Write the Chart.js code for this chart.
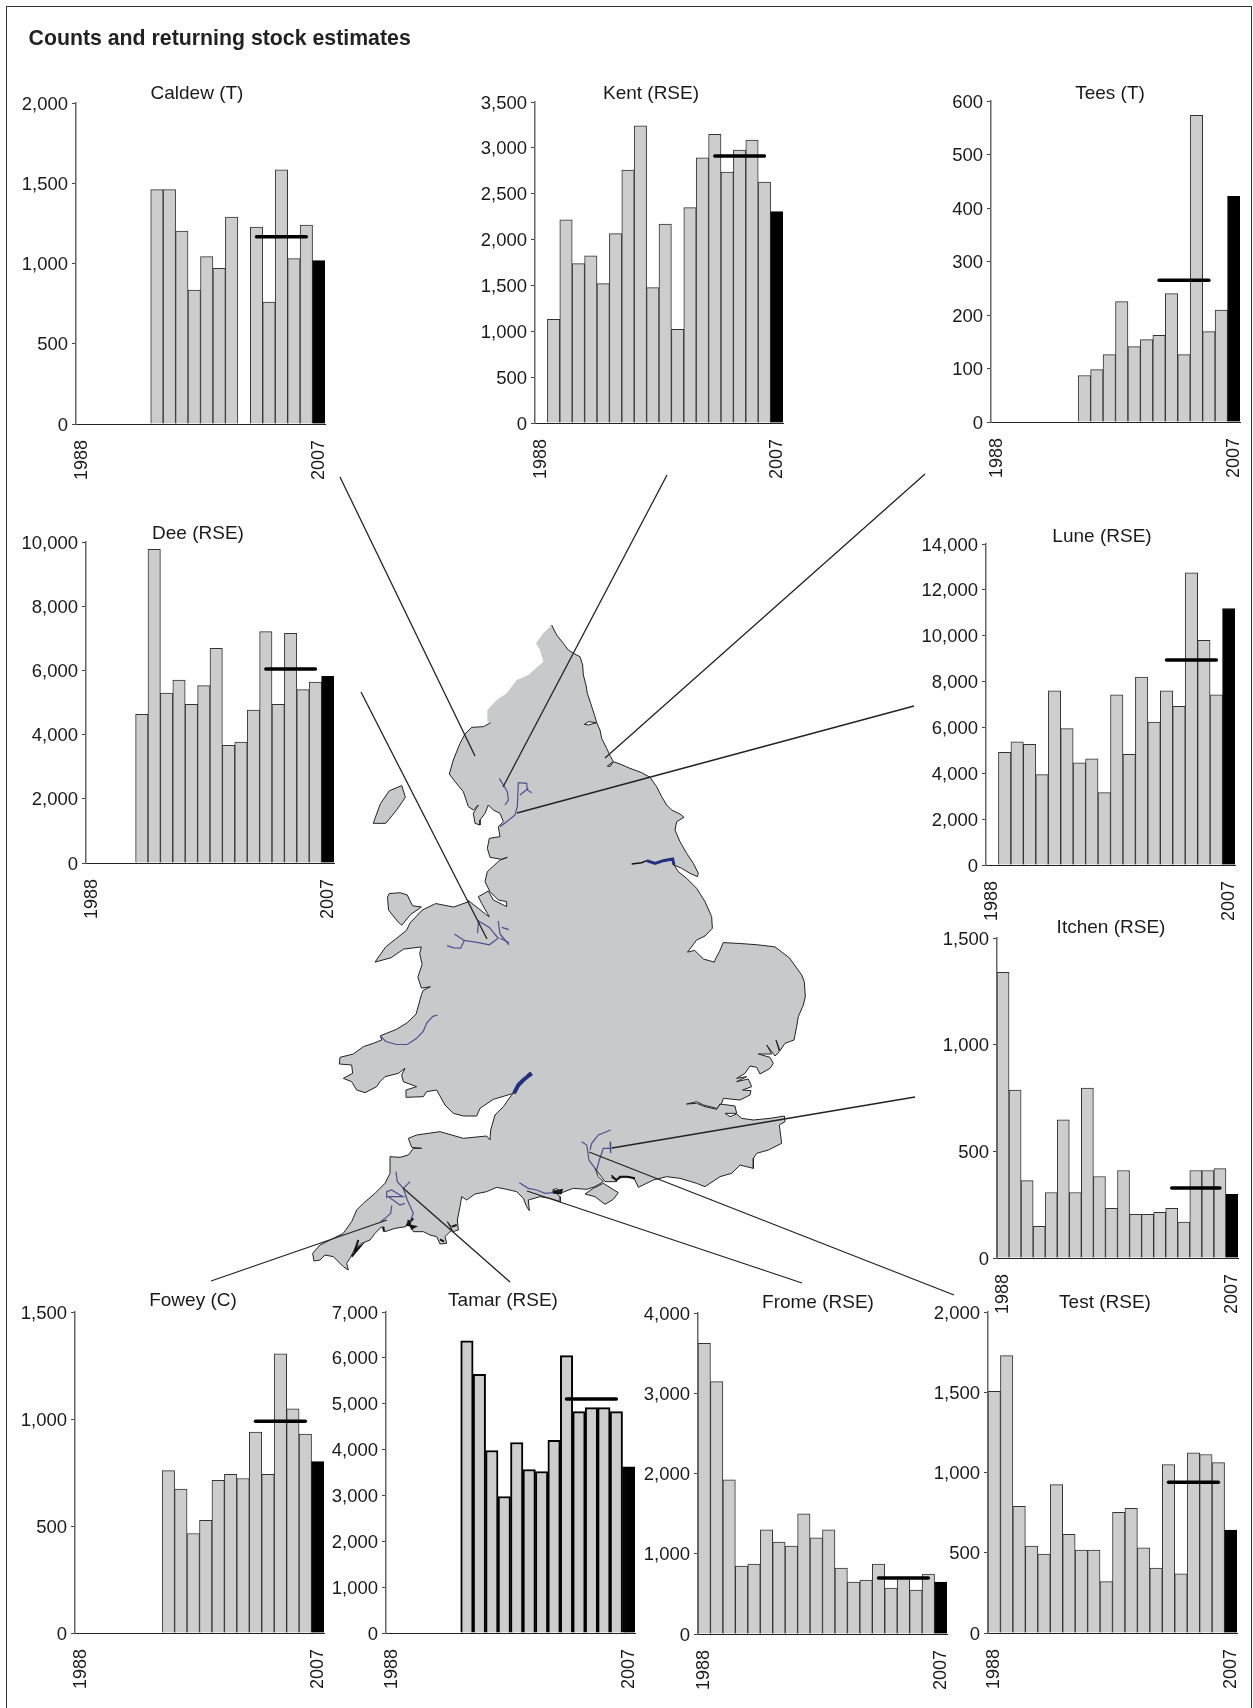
<!DOCTYPE html>
<html>
<head>
<meta charset="utf-8">
<title>Counts and returning stock estimates</title>
<script src="https://cdn.jsdelivr.net/npm/chart.js@4"></script>
<style>
  html, body { margin: 0; padding: 0; background: #fff; }
  body { position: relative; width: 1253px; height: 1708px; overflow: hidden; font-family: "Liberation Sans", Arial, sans-serif; color: #1a1a1a; }
  canvas { position: absolute; display: block; }
  #frame { position: absolute; left: 6px; top: 6px; width: 1246px; height: 1702px; border: 1.5px solid #333; border-bottom: none; box-sizing: border-box; }
  h1 { position: absolute; left: 28.5px; top: 25.5px; margin: 0; font-size: 21.3px; line-height: 24px; font-weight: bold; color: #222; white-space: nowrap; }
  .river-title { position: absolute; font-size: 19px; line-height: 20px; white-space: nowrap; transform: translate(-50%, -50%); }
</style>
</head>
<body>
<div id="frame"></div>
<canvas id="mapChart" width="1253" height="1708" style="left:0;top:0"></canvas>
<h1>Counts and returning stock estimates</h1>

<script>
const years = [1988, 1989, 1990, 1991, 1992, 1993, 1994, 1995, 1996, 1997, 1998, 1999, 2000, 2001, 2002, 2003, 2004, 2005, 2006, 2007];
const yearLabels = [1988, 2007];

// counts per year, last bar (2007) is the black one
const caldew = [null, null, null, null, null, null, 1460, 1460, 1202, 835, 1043, 970, 1290, null, 1227, 760, 1583, 1030, 1240, 1018];
const kent = [null, 1130, 2214, 1738, 1822, 1520, 2065, 2759, 3239, 1476, 2170, 1021, 2348, 2890, 3148, 2737, 2977, 3086, 2628, 2305];
const tees = [null, null, null, null, null, null, null, 87, 98, 126, 225, 141, 154, 162, 240, 126, 573, 169, 209, 422];
const dee = [null, null, null, null, 4631, 9772, 5296, 5700, 4943, 5524, 6687, 3665, 3769, 4766, 7207, 4943, 7155, 5400, 5639, 5815];
const lune = [null, 4912, 5367, 5259, 3939, 7595, 5951, 4458, 4631, 3160, 7422, 4826, 8201, 6233, 7595, 6925, 12745, 9803, 7422, 11188];
const itchen = [1339, 787, 363, 149, 307, 648, 307, 797, 382, 233, 410, 205, 205, 214, 233, 168, 410, 410, 419, 298];
const fowey = [null, null, null, null, null, null, null, 759, 672, 465, 526, 713, 741, 722, 939, 741, 1304, 1048, 929, 801];
const tamar = [null, null, null, null, null, null, 6370, 5643, 3980, 2977, 4154, 3566, 3522, 4204, 6049, 4829, 4916, 4916, 4829, 3624];
const frome = [3622, 3145, 1921, 846, 871, 1299, 1145, 1095, 1498, 1199, 1299, 822, 647, 672, 871, 573, 697, 548, 747, 647];
const test = [1506, 1728, 789, 542, 492, 924, 615, 517, 517, 320, 752, 777, 530, 405, 1049, 368, 1122, 1112, 1062, 642];

// five year means: value, first year, last year
const caldewMean = [1167, 2002, 2006];
const kentMean = [2912, 2002, 2006];
const teesMean = [265, 2001, 2005];
const deeMean = [6044, 2002, 2006];
const luneMean = [8937, 2002, 2006];
const itchenMean = [328, 2002, 2006];
const foweyMean = [989, 2002, 2006];
const tamarMean = [5105, 2002, 2006];
const fromeMean = [697, 2002, 2006];
const testMean = [939, 2002, 2006];

// map tracing, each stretch in the pixels of the crop it was traced from
const pageFrom = (ox, oy, sx, sy) => ([x, y]) => [ox + x / sx, oy + y / sy];
const fromNorth = pageFrom(400, 610, 3, 3);
const fromSouthWest = pageFrom(320, 1040, 3, 3);
const fromSouthEast = pageFrom(540, 980, 3, 3);
const fromWhole = pageFrom(300, 600, 2.8, 2.306);

const eastCoast = [[455,45],[470,75],[490,100],[505,120],[520,130],[540,140],[548,165],[550,195],[558,225],[562,250],[572,280],[585,320],[590,338],[565,335],[553,343],[565,345],[590,338],[600,360],[605,385],[620,415],[632,440],[640,455],[630,470],[622,468],[640,455],[660,462],[690,475],[725,488],[750,502],[770,530],[785,560],[800,585],[815,600],[840,612],[852,622],[830,635],[825,660],[840,695],[860,730],[880,760],[895,790],[892,800],[870,790],[845,775],[822,765],[835,785],[860,805],[890,835],[915,875],[935,920],[937,955],[915,978],[890,990]];
const eastAnglia = [[1085,812],[1105,808],[1130,828],[1160,835],[1165,825],[1175,810],[1185,790],[1230,792],[1280,795],[1330,800],[1370,825],[1405,865],[1412,880],[1415,915]];
const kentCoast = [[796,50],[790,75],[775,110],[770,140],[762,180],[735,190],[720,212],[708,180],[718,215],[705,228],[680,195],[695,222],[655,222],[690,232],[700,250],[690,265],[660,282],[650,262],[630,258],[615,280],[590,295],[620,290],[590,305],[625,297],[635,320],[608,330],[633,332],[630,345],[600,360],[550,355],[545,370],[530,385],[490,375],[470,365],[440,372],[470,370],[495,380],[530,388],[540,372],[585,378],[590,400],[555,400],[570,410],[590,402],[605,415],[640,420],[690,415],[733,408],[735,425],[718,435],[725,490],[685,510],[650,520],[640,535],[640,565],[600,555],[575,580],[540,590],[495,620],[470,610],[420,595],[380,590],[340,600],[295,622],[285,600],[270,590],[245,592],[230,600],[215,585],[230,605],[195,605],[180,585],[165,565],[175,590],[190,605],[165,620],[140,628],[100,625],[60,640],[50,625],[38,630],[60,650]];
const westCountry = [[720,470],[722,485],[690,475],[660,470],[625,480],[628,512],[620,500],[610,475],[590,455],[560,448],[530,442],[500,455],[465,462],[440,480],[425,470],[420,500],[412,540],[415,570],[398,575],[390,555],[382,545],[395,570],[375,590],[380,610],[360,612],[350,590],[330,585],[310,575],[280,575],[265,540],[258,560],[225,565],[195,575],[185,560],[165,580],[150,600],[125,610],[105,625],[90,655],[80,670],[85,690],[70,680],[40,650],[15,645],[0,660],[-18,663],[-22,640],[0,615],[30,600],[70,580],[95,545],[110,510],[130,490],[165,460],[195,430],[210,400],[210,350],[240,352],[265,345],[280,325],[305,325],[275,322],[265,295],[290,285],[360,275],[430,295],[500,288],[510,300],[512,270],[525,225],[550,200],[575,165],[632,98],[625,100],[580,160],[520,178],[480,205],[470,228],[430,228],[400,220],[375,195],[350,150],[320,155],[310,170],[260,172],[258,150],[290,140],[250,125],[245,105],[255,85],[235,100],[195,110],[180,125],[170,140],[135,158],[110,150],[95,125],[70,115],[98,100],[95,75],[58,72],[60,52],[100,42],[130,20],[160,10],[185,0]];
const walesCoast = [[225,1005],[270,990],[300,975],[325,955],[340,910],[345,900],[365,892],[340,895],[330,870],[342,840],[335,815],[340,800],[290,805],[255,825],[210,835],[240,800],[298,762],[308,745],[342,715],[380,700],[430,708],[475,695]];
const northWest = [[205,872],[235,895],[260,915],[268,920],[262,910],[245,880],[235,860],[265,843],[280,870],[320,890],[320,875],[295,870],[270,845],[255,815],[262,785],[300,750],[322,742],[305,748],[270,742],[262,715],[268,685],[300,680],[295,650],[310,635],[300,610],[280,600],[265,585],[255,610],[240,630],[240,645],[225,640],[220,610],[235,585],[220,600],[205,590],[190,545],[165,515],[148,492],[160,450],[180,400],[195,372],[215,352],[250,350],[272,338]];
const scottishBorder = [[262,335],[262,300],[290,270],[320,250],[350,210],[385,195],[430,155],[420,120],[408,100],[430,70],[455,45]];
const isleOfMan = [[205,515],[225,470],[250,440],[285,428],[295,455],[270,485],[240,515],[205,515]];
const anglesey = [[245,685],[250,677],[280,675],[300,680],[315,705],[340,708],[310,725],[285,750],[272,740],[248,715],[245,685]];
const isleOfWight = [[795,462],[820,445],[850,430],[895,458],[880,478],[855,493],[825,470],[795,462]];

const northRivers = [
  [[298,505],[310,525],[322,545],[325,570],[315,585]],
  [[300,650],[320,635],[345,615],[352,590],[355,518],[380,520],[382,540],[395,548]],
  [[385,535],[360,555]]
];
const wholeRivers = [
  [[412,797],[430,802],[450,803],[460,785],[500,790],[530,795],[555,780],[530,755],[500,740],[497,768]],
  [[432,770],[460,785]],
  [[555,740],[560,770],[585,795]],
  [[565,755],[585,760]],
  [[560,780],[585,790]],
  [[225,1005],[240,1018],[270,1025],[300,1025],[325,1012],[345,995],[355,975],[372,960],[385,957]]
];
const southEastRivers = [
  [[215,505],[190,505],[178,540],[170,570]],
  [[210,485],[212,520]],
  [[125,485],[140,495],[147,540],[165,565]],
  [[150,510],[155,490],[175,465],[212,450]]
];
const southWestRivers = [
  [[598,428],[625,445],[650,450],[675,460],[700,458]],
  [[228,395],[232,425],[250,445],[262,480],[280,520],[270,545]],
  [[270,425],[250,445]],
  [[215,497],[212,520],[195,535],[182,545]],
  [[200,475],[200,455],[215,450],[240,465],[250,470],[205,470],[240,495],[255,490]]
];
const severnEstuary = [[582,160],[595,135],[610,120],[625,108],[635,100]];
const humberEstuary = [[740,752],[765,760],[790,752],[818,747],[822,765]];
const humberInland = [[695,762],[725,758],[740,752]];
const southWestCreeks = [
  [[265,540],[275,565],[285,560],[262,555],[280,535]],
  [[115,600],[105,630],[120,620],[95,650]],
  [[395,560],[410,555]],
  [[698,455],[725,450],[722,460],[700,458],[698,455]],
  [[360,598],[372,605]],
  [[190,560],[192,575]]
];
const southEastCreeks = [
  [[215,590],[230,600],[240,590],[260,590],[285,595]]
];

// leader lines from panels to rivers, page pixels
const leaders = [
  [[340,477],[475,756]],
  [[667,475],[503,787]],
  [[925,474],[605,758]],
  [[914,706],[517,813]],
  [[361,692],[487,939]],
  [[915,1097],[612,1148]],
  [[954,1295],[589,1152]],
  [[802,1283],[527,1191]],
  [[510,1282],[403,1188]],
  [[211,1281],[387,1220]]
];

const TICK_FONT = { size: 18.5, family: "'Liberation Sans', Arial, sans-serif" };
const YEAR_FONT = { size: 18, family: "'Liberation Sans', Arial, sans-serif" };
const GREY = '#cdcdcd';

// x, top, bottom, right are the plot area on the page
const panels = [
  { name: 'Caldew (T)',   values: caldew, mean: caldewMean, max: 2000,  step: 500,  x: 76,  top: 103, bottom: 424.5, right: 325, tx: 197,  ty: 92.5 },
  { name: 'Kent (RSE)',   values: kent,   mean: kentMean,   max: 3500,  step: 500,  x: 535, top: 102, bottom: 423.5, right: 783, tx: 651,  ty: 92.5 },
  { name: 'Tees (T)',     values: tees,   mean: teesMean,   max: 600,   step: 100,  x: 991, top: 101, bottom: 422.5, right: 1240, tx: 1110, ty: 92.5 },
  { name: 'Dee (RSE)',    values: dee,    mean: deeMean,    max: 10000, step: 2000, x: 86,  top: 542, bottom: 863.5, right: 334, tx: 198,  ty: 532.5 },
  { name: 'Lune (RSE)',   values: lune,   mean: luneMean,   max: 14000, step: 2000, x: 986, top: 544, bottom: 865.5, right: 1235, tx: 1102, ty: 536 },
  { name: 'Itchen (RSE)', values: itchen, mean: itchenMean, max: 1500,  step: 500,  x: 997, top: 938, bottom: 1258.5, right: 1238, tx: 1111, ty: 927 },
  { name: 'Fowey (C)',    values: fowey,  mean: foweyMean,  max: 1500,  step: 500,  x: 75,  top: 1312, bottom: 1633.5, right: 324, tx: 193,  ty: 1300 },
  { name: 'Tamar (RSE)',  values: tamar,  mean: tamarMean,  max: 7000,  step: 1000, x: 386, top: 1312, bottom: 1633.5, right: 635, tx: 503,  ty: 1300, heavy: true },
  { name: 'Frome (RSE)',  values: frome,  mean: fromeMean,  max: 4000,  step: 1000, x: 698, top: 1313, bottom: 1634.5, right: 947, tx: 818,  ty: 1301.5 },
  { name: 'Test (RSE)',   values: test,   mean: testMean,   max: 2000,  step: 500,  x: 988, top: 1312, bottom: 1633.5, right: 1237, tx: 1105, ty: 1301.5 }
];

const YW = 74, XH = 60, PAD_TOP = 12, PAD_RIGHT = 12;

function buildPanel(p) {
  const cv = document.createElement('canvas');
  cv.width = p.right - p.x + YW + PAD_RIGHT;
  cv.height = p.bottom - p.top + PAD_TOP + XH;
  cv.style.left = (p.x - YW) + 'px';
  cv.style.top = (p.top - PAD_TOP) + 'px';
  document.body.appendChild(cv);

  const label = document.createElement('div');
  label.className = 'river-title';
  label.textContent = p.name;
  label.style.left = p.tx + 'px';
  label.style.top = p.ty + 'px';
  document.body.appendChild(label);

  const last = years.length - 1;
  const [meanValue, meanFrom, meanTo] = p.mean;
  new Chart(cv, {
    type: 'bar',
    data: {
      labels: years,
      datasets: [
        {
          type: 'line',
          data: years.map(y => (y >= meanFrom && y <= meanTo) ? meanValue : null),
          borderColor: '#000',
          borderWidth: 3.5,
          borderCapStyle: 'round',
          pointRadius: 0,
          order: 0
        },
        {
          data: p.values,
          backgroundColor: years.map((y, i) => i === last ? '#000' : GREY),
          borderColor: years.map((y, i) => i === last ? '#000' : (p.heavy ? '#000' : '#333')),
          borderWidth: p.heavy ? 2 : 1,
          barPercentage: 1,
          categoryPercentage: 1,
          order: 1
        }
      ]
    },
    options: {
      responsive: false,
      animation: false,
      layout: { padding: { top: PAD_TOP, right: PAD_RIGHT, left: 0, bottom: 0 } },
      plugins: { legend: { display: false }, tooltip: { enabled: false } },
      scales: {
        x: {
          grid: { display: false },
          border: { color: '#222', width: 1 },
          ticks: {
            autoSkip: false, minRotation: 90, maxRotation: 90, padding: 8,
            color: '#1a1a1a', font: YEAR_FONT,
            callback: function (v) { const y = this.getLabelForValue(v); return yearLabels.includes(y) ? String(y) : ''; }
          },
          // fixed box so the plot area lands where the table says
          afterFit: s => { s.height = XH; s.paddingLeft = 0; s.paddingRight = 0; }
        },
        y: {
          min: 0,
          max: p.max,
          grid: { drawOnChartArea: false, color: '#444', tickLength: 4 },
          border: { color: '#666', width: 1.5 },
          ticks: {
            stepSize: p.step, padding: 4, labelOffset: 1.5, color: '#1a1a1a', font: TICK_FONT,
            callback: v => v.toLocaleString('en-GB')
          },
          afterFit: s => { s.width = YW; s.paddingTop = 0; s.paddingBottom = 0; }
        }
      }
    }
  });
}

function buildMap() {
  const LAND = '#c8c9cb';
  const pt = ([x, y]) => ({ x, y });
  const stroke = (pts, color, width) => ({ data: pts.map(pt), showLine: true, pointRadius: 0, borderWidth: width, borderColor: color, fill: false });
  const island = pts => ({ data: pts.map(pt), showLine: true, pointRadius: 0, borderWidth: 1, borderColor: '#222', backgroundColor: LAND, fill: 'shape' });

  const coast = [
    ...eastCoast.map(fromNorth),
    ...eastAnglia.map(fromWhole),
    ...kentCoast.map(fromSouthEast),
    ...westCountry.map(fromSouthWest),
    ...walesCoast.map(fromWhole),
    ...northWest.map(fromNorth)
  ];
  const rivers = [
    ...northRivers.map(r => r.map(fromNorth)),
    ...wholeRivers.map(r => r.map(fromWhole)),
    ...southEastRivers.map(r => r.map(fromSouthEast)),
    ...southWestRivers.map(r => r.map(fromSouthWest))
  ];
  const creeks = [
    ...southWestCreeks.map(c => c.map(fromSouthWest)),
    ...southEastCreeks.map(c => c.map(fromSouthEast))
  ];

  // chart.js paints the first dataset last, so the list runs top layer first
  new Chart(document.getElementById('mapChart'), {
    type: 'scatter',
    data: {
      datasets: [
        ...leaders.map(l => stroke(l, '#222', 1.3)),
        stroke(severnEstuary.map(fromSouthWest), '#23307f', 4),
        stroke(humberEstuary.map(fromNorth), '#23307f', 3),
        stroke(humberInland.map(fromNorth), '#111', 1.5),
        ...rivers.map(r => stroke(r, '#4f4f8f', 1.2)),
        ...creeks.map(c => stroke(c, '#111', 2)),
        island(isleOfMan.map(fromWhole)),
        island(anglesey.map(fromWhole)),
        island(isleOfWight.map(fromSouthWest)),
        stroke(coast, '#222', 1),
        { data: coast.concat(scottishBorder.map(fromNorth)).map(pt), showLine: true, pointRadius: 0, borderWidth: 0, backgroundColor: LAND, fill: 'shape' }
      ]
    },
    options: {
      responsive: false,
      animation: false,
      layout: { padding: 0 },
      plugins: { legend: { display: false }, tooltip: { enabled: false } },
      scales: {
        x: { type: 'linear', min: 0, max: 1253, display: false },
        y: { type: 'linear', min: 0, max: 1708, reverse: true, display: false }
      }
    }
  });
}

buildMap();
panels.forEach(buildPanel);
</script>
</body>
</html>
